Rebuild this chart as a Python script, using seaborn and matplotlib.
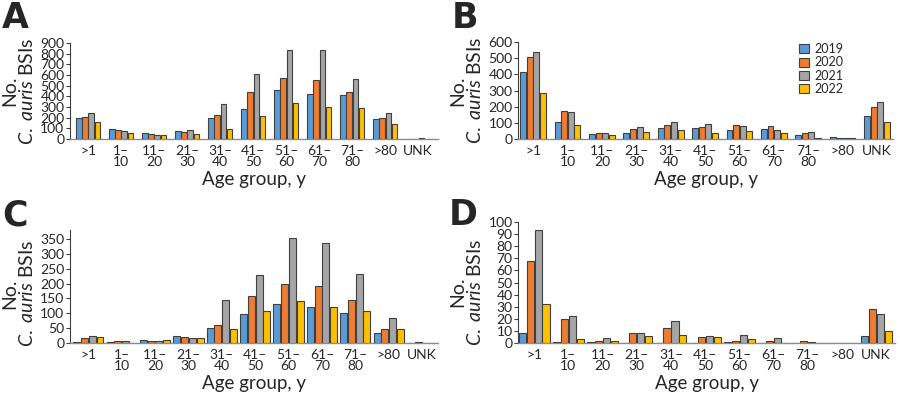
import matplotlib
matplotlib.use("Agg")
import matplotlib.pyplot as plt
import seaborn as sns
import pandas as pd
import numpy as np

# ---------------- data ----------------
age_groups = [">1", "1–10", "11–20", "21–30", "31–40", "41–50",
              "51–60", "61–70", "71–80", ">80", "UNK"]
tick_labels = [">1", "1–\n10", "11–\n20", "21–\n30", "31–\n40", "41–\n50",
               "51–\n60", "61–\n70", "71–\n80", ">80", "UNK"]
years = ["2019", "2020", "2021", "2022"]

A_2019 = [200, 95, 55, 75, 195, 285, 455, 420, 415, 190, 3]
A_2020 = [210, 85, 50, 70, 225, 445, 575, 550, 445, 200, 3]
A_2021 = [245, 75, 40, 85, 330, 605, 830, 830, 565, 245, 5]
A_2022 = [155, 55, 35, 45, 95, 215, 335, 300, 295, 145, 2]

B_2019 = [416, 105, 32, 37, 68, 65, 58, 60, 25, 10, 145]
B_2020 = [510, 174, 40, 60, 88, 75, 85, 78, 38, 6, 200]
B_2021 = [540, 168, 37, 72, 105, 90, 82, 58, 45, 8, 227]
B_2022 = [285, 86, 25, 42, 55, 38, 50, 38, 8, 5, 107]

C_2019 = [5, 3, 10, 23, 52, 98, 130, 122, 100, 32, 0]
C_2020 = [18, 8, 6, 20, 62, 158, 200, 192, 143, 48, 3]
C_2021 = [25, 8, 8, 18, 145, 230, 352, 335, 233, 85, 0]
C_2022 = [20, 1, 10, 18, 47, 107, 140, 120, 108, 48, 0]

D_2019 = [8, 1, 1, 0, 0, 0, 1, 0, 0, 0, 6]
D_2020 = [68, 20, 2, 8, 12, 5, 2, 2, 2, 0, 28]
D_2021 = [93, 22, 4, 8, 18, 6, 7, 4, 1, 0, 24]
D_2022 = [32, 3, 2, 6, 7, 5, 3, 0, 0, 0, 10]

colors = ["#5B9BD5", "#ED7D31", "#A5A5A5", "#FFC000"]

panels = {
    "A": [A_2019, A_2020, A_2021, A_2022],
    "B": [B_2019, B_2020, B_2021, B_2022],
    "C": [C_2019, C_2020, C_2021, C_2022],
    "D": [D_2019, D_2020, D_2021, D_2022],
}

# ---------------- style ----------------
sns.set_style("ticks")
plt.rcParams["font.family"] = ["Lato", "DejaVu Sans"]
plt.rcParams["mathtext.fontset"] = "custom"
plt.rcParams["mathtext.it"] = "Lato:italic"
plt.rcParams["mathtext.rm"] = "Lato"

fig = plt.figure(figsize=(9, 4), dpi=100)

layout = {
    # left, bottom, width, height
    "A": [0.0778, 0.6525, 0.4089, 0.2400],
    "B": [0.5756, 0.6525, 0.4167, 0.2425],
    "C": [0.0778, 0.1425, 0.4089, 0.2825],
    "D": [0.5756, 0.1425, 0.4189, 0.3025],
}
yspec = {
    "A": (900, 100, (-0.55, 10.6), 0.75),
    "B": (600, 100, (-0.44, 10.47), 0.77),
    "C": (380, 50, (-0.55, 10.48), 0.93),
    "D": (100, 10, (-0.47, 10.55), 0.93),
}
letter_pos = {"A": (0.002, 0.998), "B": (0.502, 0.998),
              "C": (0.002, 0.505), "D": (0.499, 0.505)}
ylabel_y = {"A": 0.5, "B": 0.5, "C": 0.44, "D": 0.42}

for key, series in panels.items():
    rows = []
    for yr, vals in zip(years, series):
        for ag, v in zip(age_groups, vals):
            rows.append({"age": ag, "year": yr, "count": v})
    df = pd.DataFrame(rows)
    ax = fig.add_axes(layout[key])
    ymax, ystep, xlim, width = yspec[key]
    sns.barplot(data=df, x="age", y="count", hue="year", order=age_groups,
                hue_order=years, palette=colors, saturation=1, width=width, gap=0.1,
                edgecolor="#404040", linewidth=0.8, errorbar=None,
                legend=(key == "B"), ax=ax, zorder=3)
    ax.set_xlim(*xlim)
    ax.set_ylim(0, ymax)
    top_tick = 350 if key == "C" else ymax
    ax.set_yticks(np.arange(0, top_tick + 1, ystep))
    ax.tick_params(axis="y", labelsize=10, length=3, width=0.8, pad=1, color="#404040")
    ax.set_xticks(range(len(age_groups)))
    ax.set_xticklabels(tick_labels, fontsize=10, linespacing=0.95)
    ax.tick_params(axis="x", length=0, pad=4)
    for s in ["top", "right"]:
        ax.spines[s].set_visible(False)
    ax.spines["left"].set_color("#404040")
    ax.spines["left"].set_linewidth(0.8)
    ax.spines["bottom"].set_color("#8c8c8c")
    ax.spines["bottom"].set_linewidth(1.0)
    ax.set_xlabel("Age group, y", fontsize=13.5, labelpad=2)
    ax.set_ylabel("No.\n$\\it{C.}$ $\\it{auris}$ BSIs", fontsize=14, linespacing=1.0, labelpad=3)
    ax.yaxis.label.set_y(ylabel_y[key])
    if key == "B":
        ax.legend(title=None, loc="upper left", bbox_to_anchor=(0.888, 0.892),
                  bbox_transform=fig.transFigure, frameon=False, fontsize=9,
                  handlelength=0.75, handleheight=0.75, labelspacing=0.1,
                  handletextpad=0.5, borderpad=0, borderaxespad=0)
    fig.text(*letter_pos[key], key, fontsize=25, fontweight="bold",
             family="DejaVu Sans", va="top", ha="left")

fig.savefig("out.png", dpi=100)
